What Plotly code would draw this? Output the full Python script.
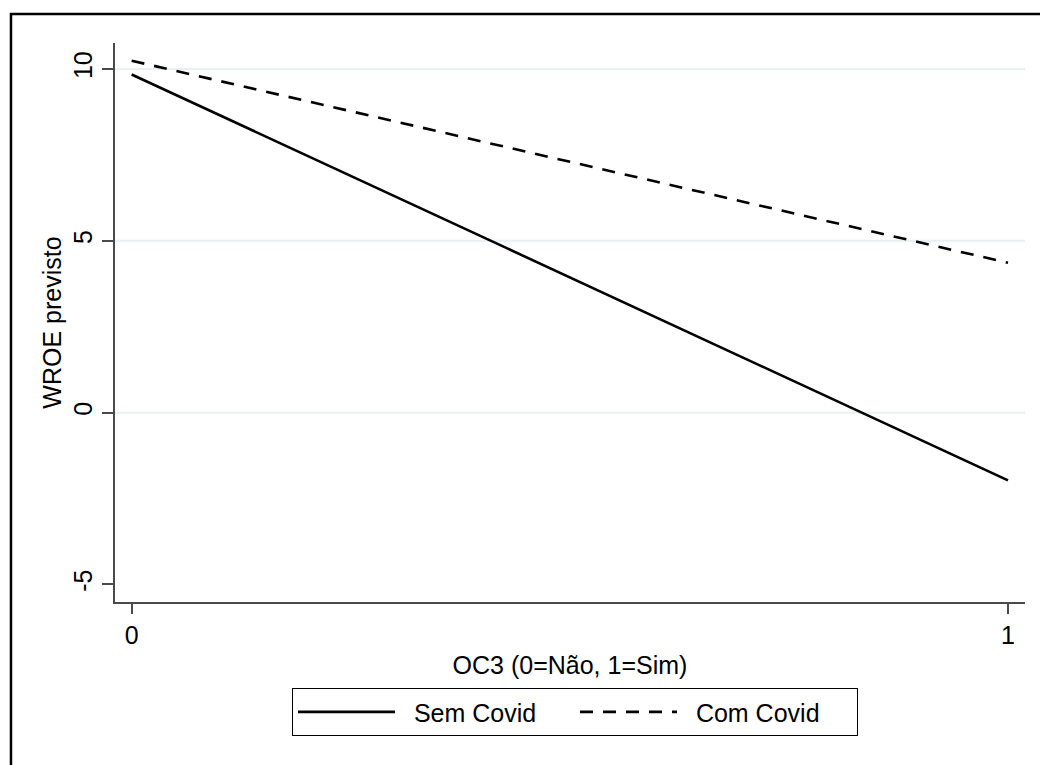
import plotly.graph_objects as go

# Predicted WROE by OC3 status, with and without Covid
oc3 = [0, 1]
oc3_ticks = ["0", "1"]
sem_covid = [9.84, -1.97]
com_covid = [10.24, 4.36]
y_ticks = [-5, 0, 5, 10]
y_tick_labels = ["-5", "0", "5", "10"]
grid_values = [0, 5, 10]

FONT = "Arial, Liberation Sans, sans-serif"
FS = 25
AXIS_COLOR = "#4a4a4a"
GRID_COLOR = "#e8f0f2"

fig = go.Figure()

fig.add_trace(go.Scatter(
    x=oc3, y=sem_covid, mode="lines", name="  Sem Covid",
    line=dict(color="black", width=2.6, dash="solid"),
))
fig.add_trace(go.Scatter(
    x=oc3, y=com_covid, mode="lines", name="  Com Covid",
    line=dict(color="black", width=2.6, dash="13px,10px"),
))

# light horizontal grid lines behind the data
for g in grid_values:
    fig.add_shape(type="line", xref="paper", x0=0, x1=1, yref="y", y0=g, y1=g,
                  line=dict(color=GRID_COLOR, width=2), layer="below")

# outer graph frame
fig.add_shape(type="rect", xref="paper", yref="paper",
              x0=-0.1143, x1=1.2, y0=-0.4, y1=1.0519,
              line=dict(color="black", width=2.5), fillcolor="rgba(0,0,0,0)",
              layer="above")

fig.update_layout(
    width=1040, height=765,
    margin=dict(l=115, r=15, t=43, b=163),
    paper_bgcolor="white", plot_bgcolor="white",
    font=dict(family=FONT, size=FS, color="black"),
    showlegend=True,
    legend=dict(
        orientation="h", x=0.1945, xanchor="left", y=-0.154, yanchor="top",
        bordercolor="black", borderwidth=1, bgcolor="white",
        itemwidth=97, entrywidth=170, font=dict(size=FS), tracegroupgap=0,
    ),
    xaxis=dict(
        range=[-0.019, 1.0194], tickmode="array", tickvals=oc3, ticktext=oc3_ticks,
        showgrid=False, zeroline=False, showline=True, linecolor=AXIS_COLOR, linewidth=2,
        ticks="outside", ticklen=10, tickwidth=2, tickcolor=AXIS_COLOR,
        tickfont=dict(size=FS),
        title=dict(text="OC3 (0=Não, 1=Sim)", font=dict(size=FS), standoff=8),
    ),
    yaxis=dict(
        range=[-5.51, 10.755], tickmode="array", tickvals=y_ticks, ticktext=y_tick_labels,
        showgrid=False, zeroline=False, showline=True, linecolor=AXIS_COLOR, linewidth=2,
        ticks="outside", ticklen=11, tickwidth=2, tickcolor=AXIS_COLOR,
        tickangle=-90, tickfont=dict(size=FS),
        title=dict(text="WROE previsto", font=dict(size=FS), standoff=0),
    ),
)

fig.write_html("out.html")
